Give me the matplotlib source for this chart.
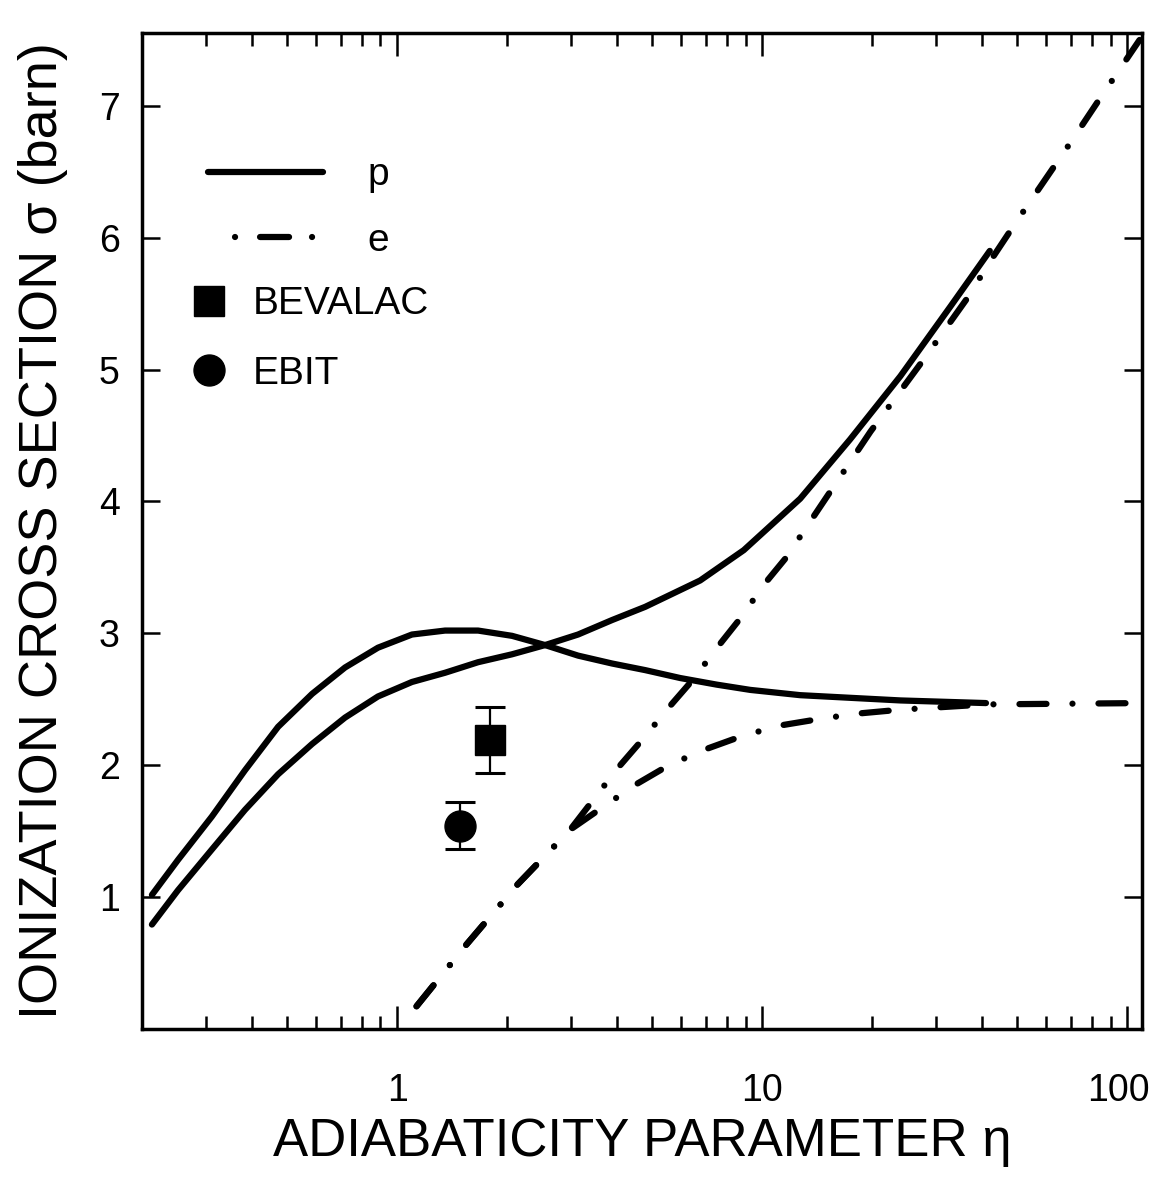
import numpy as np
import matplotlib
matplotlib.use('Agg')
import matplotlib.pyplot as plt
from matplotlib.lines import Line2D
from matplotlib.ticker import FixedLocator, NullFormatter
from matplotlib.transforms import ScaledTranslation

plt.rcParams['font.family'] = ['Liberation Sans', 'DejaVu Sans']
plt.rcParams['lines.scale_dashes'] = False

# ---- data ----
# p, curve peaking near eta ~ 1.5
eta_p1 = [0.213, 0.251, 0.311, 0.383, 0.472, 0.585, 0.720, 0.886, 1.098, 1.353, 1.666, 2.064,
          2.542, 3.13, 3.88, 4.78, 5.96, 7.5, 9.27, 12.7, 17.4, 23.9, 41.0]
sig_p1 = [1.015, 1.28, 1.61, 1.96, 2.29, 2.54, 2.74, 2.89, 2.99, 3.02, 3.02, 2.98,
          2.91, 2.83, 2.77, 2.72, 2.66, 2.61, 2.57, 2.53, 2.51, 2.49, 2.47]
# p, rising curve
eta_p2 = [0.213, 0.251, 0.311, 0.383, 0.472, 0.585, 0.720, 0.886, 1.098, 1.353, 1.666, 2.064,
          2.542, 3.13, 3.88, 4.78, 6.76, 8.9, 12.7, 17.4, 23.9, 32.8, 42.0]
sig_p2 = [0.79, 1.05, 1.36, 1.66, 1.93, 2.16, 2.36, 2.52, 2.63, 2.70, 2.78, 2.84,
          2.91, 2.99, 3.10, 3.20, 3.40, 3.63, 4.02, 4.47, 4.95, 5.48, 5.90]
# e, rising curve
eta_e1 = [1.13, 1.55, 2.13, 2.98, 4.03, 4.72, 5.52, 6.47, 7.52, 8.81, 10.05, 11.6, 19.8, 27.4,
          36.2, 43.0, 49.9, 70.6, 84.3, 108.0]
sig_e1 = [0.17, 0.64, 1.09, 1.51, 1.98, 2.20, 2.43, 2.65, 2.89, 3.13, 3.36, 3.57, 4.53, 5.06,
          5.53, 5.86, 6.13, 6.74, 7.06, 7.50]
# e, saturating curve
eta_e2 = [1.13, 1.55, 2.13, 2.98, 3.79, 4.49, 5.56, 7.0, 8.81, 11.2, 14.4, 18.2, 23.9, 41.0, 110.0]
sig_e2 = [0.17, 0.64, 1.09, 1.51, 1.71, 1.85, 2.00, 2.12, 2.22, 2.30, 2.35, 2.39, 2.42, 2.46, 2.47]

# measurements
bev_eta = [1.80]
bev_sig = [2.19]
bev_err = [0.25]
ebit_eta = [1.49]
ebit_sig = [1.54]
ebit_err = [0.18]

x_major = [1, 10, 100]
x_labels = ['1', '10', '100']
y_major = [1, 2, 3, 4, 5, 6, 7]

PX = 0.72  # points per pixel at dpi 100
lw = 4.5
dashdot = (0, (27 * PX, 26 * PX, 0.01, 26 * PX))

fig = plt.figure(figsize=(11.54, 11.92), dpi=100)
ax = fig.add_axes([0.123, 0.137, 0.867, 0.835])

ax.plot(eta_p1, sig_p1, color='k', lw=lw, solid_capstyle='round', solid_joinstyle='round')
ax.plot(eta_p2, sig_p2, color='k', lw=lw, solid_capstyle='round', solid_joinstyle='round')
ax.plot(eta_e1, sig_e1, color='k', lw=lw, linestyle=dashdot, dash_capstyle='round', dash_joinstyle='round')
ax.plot(eta_e2, sig_e2, color='k', lw=lw, linestyle=dashdot, dash_capstyle='round', dash_joinstyle='round')

ax.errorbar(bev_eta, bev_sig, yerr=bev_err, fmt='s', color='k', ms=21.6,
            capsize=10.8, elinewidth=1.6, capthick=2.2)
ax.errorbar(ebit_eta, ebit_sig, yerr=ebit_err, fmt='o', color='k', ms=22.3,
            capsize=10.8, elinewidth=1.6, capthick=2.2)

ax.set_xscale('log')
ax.set_xlim(0.2, 110)
ax.set_ylim(0, 7.55)

minors = [m * d for d in (0.1, 1, 10) for m in range(2, 10) if m * d > 0.25]
ax.xaxis.set_major_locator(FixedLocator(x_major))
ax.xaxis.set_minor_locator(FixedLocator(minors))
ax.xaxis.set_minor_formatter(NullFormatter())
ax.set_xticklabels(x_labels)
ax.set_yticks(y_major)
ax.yaxis.set_minor_locator(FixedLocator([]))

ax.tick_params(which='both', direction='in', top=True, right=True, width=1.8,
               labelsize=27, color='k')
ax.tick_params(axis='x', which='major', length=16.5, pad=32)
ax.tick_params(axis='x', which='minor', length=9.5)
ax.tick_params(axis='y', which='major', length=13, pad=16)
for s in ax.spines.values():
    s.set_linewidth(2.5)

# the "100" label sits slightly left of its tick, as in the original
lab100 = ax.xaxis.get_major_ticks()[2].label1
lab100.set_transform(lab100.get_transform() + ScaledTranslation(-0.09, 0, fig.dpi_scale_trans))

ax.set_xlabel('ADIABATICITY PARAMETER η', fontsize=38, labelpad=6)
ax.set_ylabel('IONIZATION CROSS SECTION σ (barn)', fontsize=39, labelpad=22)

# legend for the curves
h_p = Line2D([], [], color='k', lw=lw, solid_capstyle='round')
e_style = (350 * PX, (0.01, 25 * PX, 29 * PX, 23 * PX, 0.01, 300 * PX))
h_e = Line2D([], [], color='k', lw=lw, linestyle=e_style, dash_capstyle='round')
leg1 = ax.legend([h_p, h_e], ['p', 'e'], loc='upper left', bbox_to_anchor=(0.066, 0.8755),
                 frameon=False, fontsize=28, handlelength=2.95, handletextpad=1.15,
                 labelspacing=0.76, borderpad=0, borderaxespad=0)
ax.add_artist(leg1)

# legend for the measurements
h_b = Line2D([], [], color='k', ls='none', marker='s', ms=21.6)
h_c = Line2D([], [], color='k', ls='none', marker='o', ms=22.3)
ax.legend([h_b, h_c], ['BEVALAC', 'EBIT'], loc='upper left', bbox_to_anchor=(0.0475, 0.746),
          frameon=False, fontsize=28, handlelength=1.0, handletextpad=0.62,
          labelspacing=0.86, borderpad=0, borderaxespad=0, numpoints=1)

fig.savefig('out.png', dpi=100)
